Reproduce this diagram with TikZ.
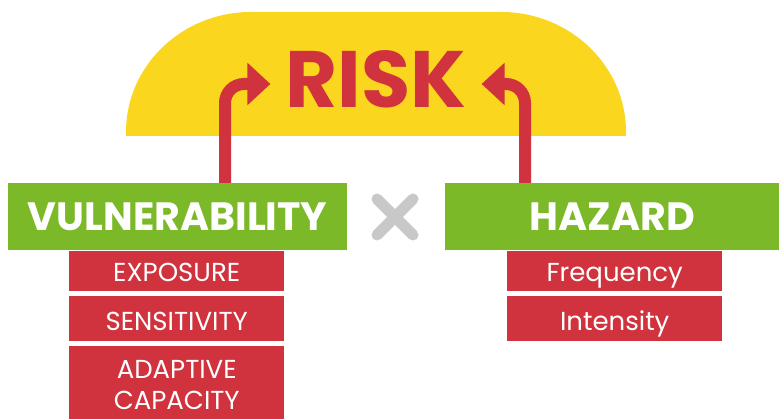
\documentclass[tikz,border=0pt]{standalone}
\usepackage{fontspec}
\setmainfont{Poppins}
\usetikzlibrary{arrows.meta,calc}
\definecolor{riskred}{RGB}{208,50,62}
\definecolor{domeyellow}{RGB}{250,214,30}
\definecolor{leafgreen}{RGB}{124,185,40}
\definecolor{crossgray}{RGB}{200,200,200}
\begin{document}
\begin{tikzpicture}[x=1pt,y=1pt,
  headbox/.style={fill=leafgreen, text=white, font=\fontsize{39.5}{40}\selectfont\bfseries,
    minimum height=67pt, inner sep=0pt, anchor=north west},
  factorbox/.style={fill=riskred, text=white, font=\fontsize{26}{31}\selectfont,
    minimum width=215pt, inner sep=0pt, anchor=north west, align=center},
  oneline/.style={text height=#1, text depth=0pt},
  oneline/.default=21pt,
  riskarrow/.style={draw=riskred, line width=12pt, rounded corners=19pt,
    -{Triangle[length=23pt,width=41pt]}}]
\useasboundingbox (0,0) rectangle (779,418);
% yellow dome behind the title
\fill[domeyellow] (126,282) -- (126,286)
  arc[start angle=180,end angle=90,x radius=125,y radius=120] -- (501,406)
  arc[start angle=90,end angle=0,x radius=125,y radius=120] -- (626,282) -- cycle;
% title
\node[font=\fontsize{80}{80}\selectfont\bfseries, text=riskred, inner ysep=0pt, inner xsep=15pt]
  (risk) at (376,339) {RISK};
% the two factors
\node[headbox, minimum width=339pt] (vul) at (8,235) {VULNERABILITY};
\node[headbox, minimum width=334pt] (haz) at (445,235) {HAZARD};
% components of vulnerability (the last box runs off the bottom edge)
\node[factorbox, oneline, minimum height=40pt] (exp) at (69,167) {EXPOSURE};
\node[factorbox, oneline=24pt, minimum height=45pt] (sen) at (69,122) {SENSITIVITY};
\node[factorbox, minimum height=78pt] (ada) at (69,72) {ADAPTIVE\\CAPACITY};
% components of hazard
\node[factorbox, oneline, minimum height=40pt] (fre) at (507,167) {Frequency};
\node[factorbox, oneline=24pt, minimum height=45pt] (int) at (507,122) {Intensity};
% multiplication sign
\draw[crossgray, line width=11pt, line cap=round] (377,219) -- (413,183) (377,183) -- (413,219);
% arrows up into the title
\coordinate (lstem) at (225,0);
\coordinate (rstem) at (525,0);
\draw[riskarrow] (lstem |- vul.north) |- ($(risk.west)+(0,-5)$);
\draw[riskarrow] (rstem |- haz.north) |- ($(risk.east)+(0,-5)$);
\end{tikzpicture}
\end{document}
